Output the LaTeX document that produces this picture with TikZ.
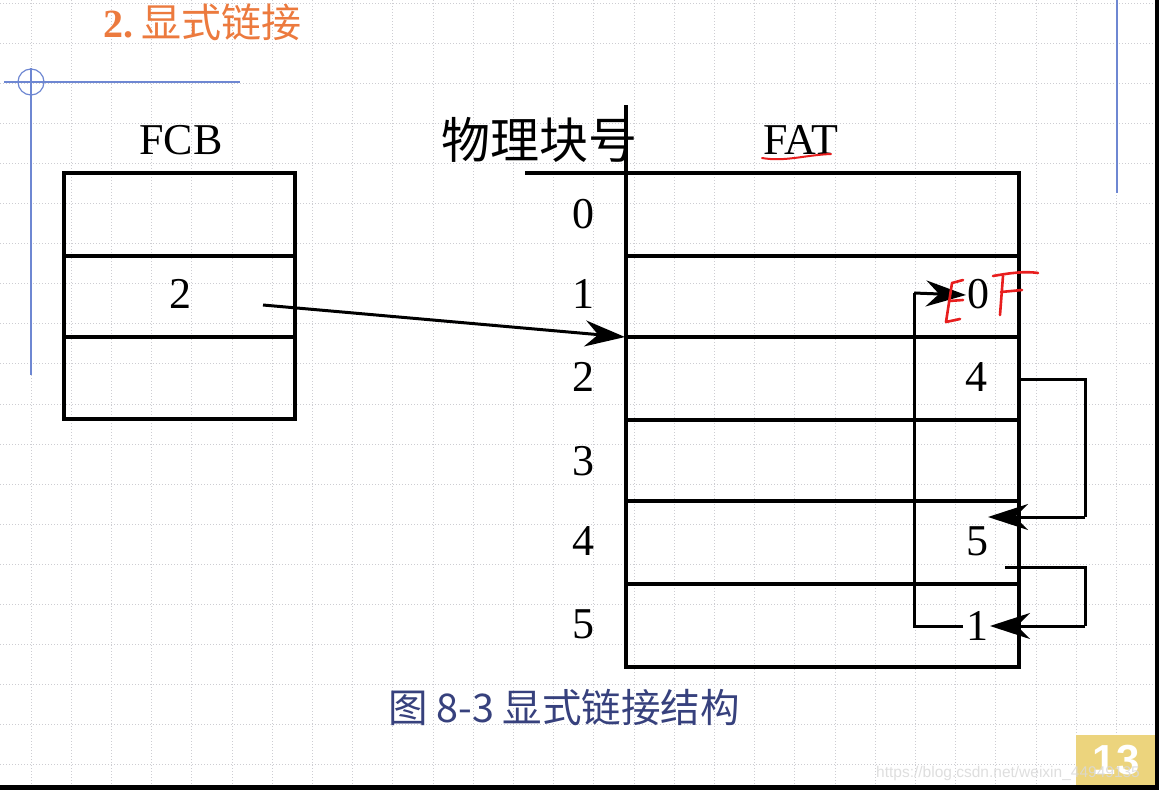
\documentclass[tikz,border=0pt]{standalone}
\usepackage{fontspec}
\setmainfont{Liberation Serif}
\newfontfamily\cjk{Noto Sans CJK SC}
\newfontfamily\sansf{Liberation Sans}
\usetikzlibrary{arrows.meta}
\definecolor{gridc}{RGB}{205,205,210}
\definecolor{slideblue}{RGB}{110,135,210}
\definecolor{titleor}{RGB}{236,122,62}
\definecolor{capblue}{RGB}{55,65,125}
\definecolor{pagey}{RGB}{236,212,125}
\definecolor{penred}{RGB}{232,30,30}
\begin{document}
\begin{tikzpicture}[x=1pt,y=-1pt,
  gridline/.style={gridc,line width=0.9pt,dash pattern=on 1.2pt off 1.8pt},
  blueline/.style={slideblue,line width=1.2pt},
  box/.style={line width=3.2pt,line cap=rect},
  num/.style={font=\fontsize{44}{44}\selectfont,inner sep=0pt},
  arr/.style={line width=3pt,-{Stealth[length=40pt,width=26pt,inset=13pt]}},
  link/.style={line width=3pt},
  pen/.style={penred,line width=2.6pt,line cap=round,line join=round}]
\useasboundingbox (0,0) rectangle (1159,790);
\fill[white] (0,0) rectangle (1159,790);
% background grid
\foreach \i in {0,...,28} \draw[gridline] ({31+40.2*\i},0) -- ({31+40.2*\i},785);
\foreach \j in {0,...,19} \draw[gridline] (0,{3+40.1*\j}) -- (1155,{3+40.1*\j});
% slide frame
\fill[black] (1155,0) rectangle (1159,790);
\fill[black] (0,785) rectangle (1159,790);
\draw[blueline] (4,82) -- (240,82);
\draw[blueline] (31,68) -- (31,375);
\draw[blueline] (31,82) circle (13);
\draw[blueline] (1117,0) -- (1117,193);
% title
\node[anchor=west,inner sep=0pt,text=titleor] (title) at (103,22)
  {\fontsize{40}{40}\selectfont\textbf{2.}\hspace{8pt}\cjk 显式链接};
% FCB
\node[num] (fcbt) at (181,140) {FCB};
\draw[box] (64,173) rectangle (295,419);
\draw[box] (64,256) -- (295,256);
\draw[box] (64,337) -- (295,337);
\node[num] (fcb2) at (180,294) {2};
% FAT
\node[inner sep=0pt,font=\cjk\fontsize{49}{49}\selectfont] (wlkh) at (539,140) {物理块号};
\node[num] (fatt) at (801,140) {FAT};
\draw[pen,line width=2pt] (762,158) .. controls (785,162) and (805,155) .. (831,154);
\draw[box] (527,173) -- (626,173);
\draw[box] (626,107) -- (626,173);
\draw[box] (626,173) rectangle (1019,667);
\foreach \y in {256,337,420,501,584} \draw[box] (626,\y) -- (1019,\y);
\node[num] (r0) at (583,214) {0};
\node[num] (r1) at (583,294) {1};
\node[num] (r2) at (583,377) {2};
\node[num] (r3) at (583,461) {3};
\node[num] (r4) at (583,541) {4};
\node[num] (r5) at (583,624) {5};
\node[num] (v0) at (978,294) {0};
\node[num] (v4) at (976,377) {4};
\node[num] (v5) at (977,541) {5};
\node[num] (v1) at (977,626) {1};
% pointers
\coordinate (s2) at (263,305);
\coordinate (t2) at (625,337);
\draw[arr] (s2) -- (t2);
\coordinate (s4) at (1019,379);
\coordinate (t5) at (988,517);
\draw[link] (s4) -| (1085,517);
\draw[arr] (1085,517) -- (t5);
\coordinate (s5) at (1005,567);
\coordinate (t1) at (990,626);
\draw[link] (s5) -| (1085,626);
\draw[arr] (1085,626) -- (t1);
\coordinate (s1) at (963,626);
\coordinate (t0) at (966,295);
\draw[link] (s1) -| (914,293);
\draw[arr] (914,293) -- (t0);
% handwritten EOF
\draw[pen] (963,280) -- (952,283) -- (946,322) -- (960,319);
\draw[pen] (949,301) -- (963,300);
\draw[pen] (993,276) .. controls (1010,273) and (1025,271) .. (1038,273);
\draw[pen] (1003,276) -- (1000,315);
\draw[pen] (1001,292) -- (1022,290);
% caption
\node[anchor=west,inner sep=0pt,text=capblue,font=\cjk\fontsize{39.5}{39.5}\selectfont] (cap) at (388,707) {图 8-3 显式链接结构};
% page number
\fill[pagey] (1076,735) rectangle (1155,785);
\node[text=white,font=\sansf\bfseries\fontsize{42}{42}\selectfont,inner sep=0pt] (pg) at (1116,760) {13};
\node[anchor=west,inner sep=0pt,text=gray!30,opacity=0.85,font=\sansf\fontsize{15.5}{15.5}\selectfont] (wm) at (876,773) {https://blog.csdn.net/weixin\_44949135};
\end{tikzpicture}
\end{document}
